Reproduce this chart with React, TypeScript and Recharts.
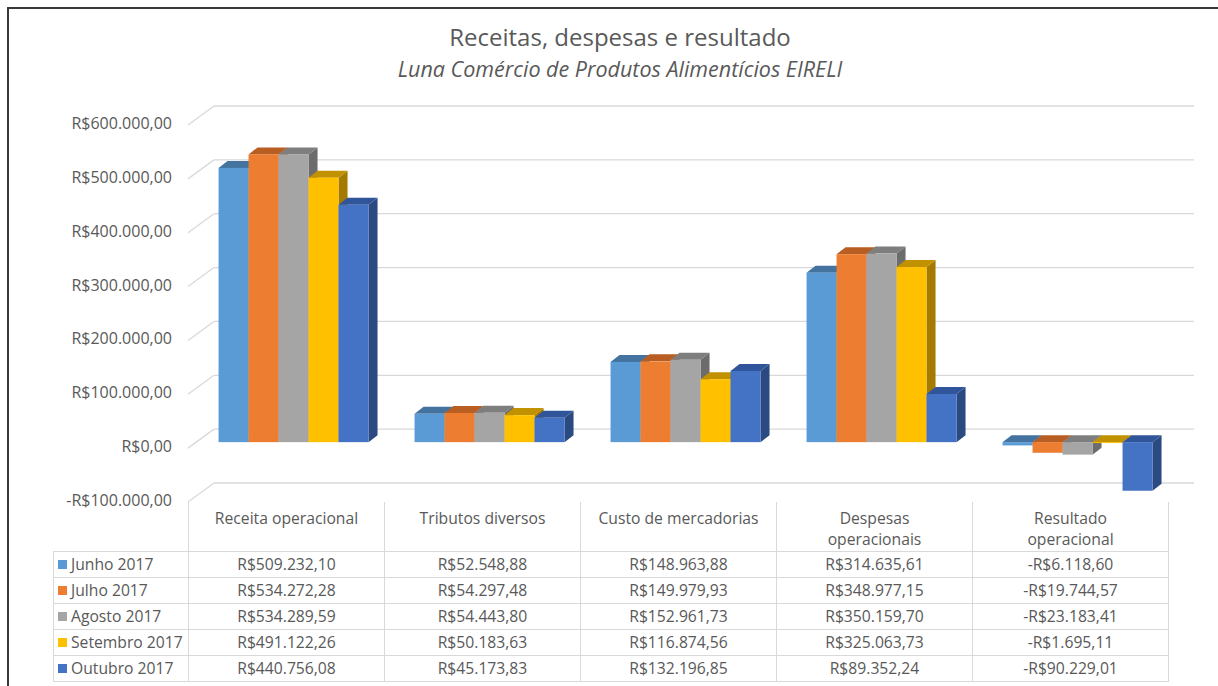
import React from "react";
import { BarChart, Bar, XAxis, YAxis, CartesianGrid } from "recharts";

const categories = [
  "Receita operacional",
  "Tributos diversos",
  "Custo de mercadorias",
  "Despesas\noperacionais",
  "Resultado\noperacional",
];

const months = ["Junho 2017", "Julho 2017", "Agosto 2017", "Setembro 2017", "Outubro 2017"];

const junho = [509232.1, 52548.88, 148963.88, 314635.61, -6118.6];
const julho = [534272.28, 54297.48, 149979.93, 348977.15, -19744.57];
const agosto = [534289.59, 54443.8, 152961.73, 350159.7, -23183.41];
const setembro = [491122.26, 50183.63, 116874.56, 325063.73, -1695.11];
const outubro = [440756.08, 45173.83, 132196.85, 89352.24, -90229.01];

const yTicks = [-100000, 0, 100000, 200000, 300000, 400000, 500000, 600000];

const seriesValues = [junho, julho, agosto, setembro, outubro];
const keys = ["m0", "m1", "m2", "m3", "m4"];
const fronts = ["#5B9BD5", "#ED7D31", "#A5A5A5", "#FFC000", "#4472C4"];
const tops = ["#44739F", "#B85E22", "#7E7E7E", "#C29100", "#30559A"];
const sides = ["#3C6690", "#A45320", "#6C6C6C", "#A47B00", "#2B4A82"];

const data = categories.map((c, i) => {
  const row: any = { name: c };
  keys.forEach((k, s) => (row[k] = seriesValues[s][i]));
  return row;
});

function brl(v: number) {
  const neg = v < 0;
  const [int, dec] = Math.abs(v).toFixed(2).split(".");
  const grouped = int.replace(/\B(?=(\d{3})+(?!\d))/g, ".");
  return (neg ? "-" : "") + "R$" + grouped + "," + dec;
}

const FONT = "'Open Sans', 'Noto Sans', sans-serif";
const TXT = "#595959";

// 3d look: front plane shift and bar depth
const PLANE_DX = 8;
const PLANE_DY = -6;
const DEPTH_X = 9;
const DEPTH_Y = 7;
const BACK_X = 26;
const BACK_Y = 19;

const makeShape = (s: number) => (props: any) => {
  const { x, y, width, height } = props;
  const top = Math.min(y, y + height) + PLANE_DY;
  const bottom = Math.max(y, y + height) + PLANE_DY;
  const left = x + PLANE_DX;
  const right = left + width;
  return (
    <g>
      <polygon
        points={`${right},${top} ${right + DEPTH_X},${top - DEPTH_Y} ${right + DEPTH_X},${bottom - DEPTH_Y} ${right},${bottom}`}
        fill={sides[s]}
      />
      <polygon
        points={`${left},${top} ${left + DEPTH_X},${top - DEPTH_Y} ${right + DEPTH_X},${top - DEPTH_Y} ${right},${top}`}
        fill={tops[s]}
      />
      <rect x={left} y={top} width={width} height={Math.max(bottom - top, 0.5)} fill={fronts[s]} />
    </g>
  );
};

const gridLine = (p: any) => (
  <g key={`g-${p.index}`}>
    <line x1={p.x1} y1={p.y1} x2={p.x1 + BACK_X} y2={p.y1 - BACK_Y} stroke="#D9D9D9" strokeWidth={1.3} />
    <line x1={p.x1 + BACK_X} y1={p.y1 - BACK_Y} x2={p.x2 + BACK_X} y2={p.y1 - BACK_Y} stroke="#D9D9D9" strokeWidth={1.3} />
  </g>
);

const YTick = (props: any) => {
  const { y, payload } = props;
  return (
    <text x={172} y={y - 2} textAnchor="end" dominantBaseline="central" fill={TXT} fontSize={16} fontFamily={FONT}>
      {brl(payload.value)}
    </text>
  );
};

const cellBorder = "1px solid #D9D9D9";

export default function App() {
  return (
    <div style={{ position: "absolute", left: 0, top: 0, width: 1218, height: 686, overflow: "hidden", background: "#fff", fontFamily: FONT }}>
      <div style={{ position: "absolute", left: 7, top: 7, width: 1211, height: 679, borderTop: "2px solid #3A3A3A", borderLeft: "2px solid #3A3A3A" }} />
      <div style={{ position: "absolute", left: 0, width: 1240, top: 21, textAlign: "center", fontSize: 24, color: TXT, lineHeight: "32px" }}>
        Receitas, despesas e resultado
      </div>
      <div style={{ position: "absolute", left: 0, width: 1240, top: 55, textAlign: "center", fontSize: 21.5, fontStyle: "italic", color: TXT, lineHeight: "28px" }}>
        Luna Comércio de Produtos Alimentícios EIRELI
      </div>
      <div style={{ position: "absolute", left: 0, top: 0 }}>
        <BarChart
          width={1218}
          height={686}
          data={data}
          margin={{ top: 125, right: 50, bottom: 184, left: 8 }}
          barCategoryGap="11.5%"
          barGap={0}
        >
          <CartesianGrid vertical={false} horizontal={gridLine} />
          <XAxis dataKey="name" hide />
          <YAxis
            type="number"
            domain={[-100000, 600000]}
            ticks={yTicks}
            interval={0}
            width={180}
            axisLine={false}
            tickLine={false}
            tick={<YTick />}
          />
          {keys.map((k, s) => (
            <Bar key={k} dataKey={k} isAnimationActive={false} shape={makeShape(s)} />
          ))}
        </BarChart>
      </div>
      <table
        style={{
          position: "absolute",
          left: 53,
          top: 502,
          borderCollapse: "collapse",
          tableLayout: "fixed",
          width: 1115,
          fontSize: 15.7,
          color: TXT,
        }}
      >
        <colgroup>
          <col style={{ width: 135 }} />
          {categories.map((c) => (
            <col key={c} style={{ width: 196 }} />
          ))}
        </colgroup>
        <tbody>
          <tr style={{ height: 49 }}>
            <td style={{ padding: 0 }} />
            {categories.map((c) => (
              <td
                key={c}
                style={{
                  borderLeft: cellBorder,
                  borderRight: cellBorder,
                  borderBottom: cellBorder,
                  textAlign: "center",
                  verticalAlign: "top",
                  padding: "6px 0 0 0",
                  lineHeight: "21px",
                  whiteSpace: "pre-line",
                }}
              >
                {c}
              </td>
            ))}
          </tr>
          {months.map((m, s) => (
            <tr key={m} style={{ height: 26 }}>
              <td style={{ border: cellBorder, padding: "0 0 0 4px", whiteSpace: "nowrap", lineHeight: "24px", overflow: "hidden" }}>
                <span style={{ display: "inline-block", width: 9, height: 9, background: fronts[s], marginRight: 4, verticalAlign: "1px" }} />
                {m}
              </td>
              {seriesValues[s].map((v, i) => (
                <td key={i} style={{ border: cellBorder, textAlign: "center", padding: 0, lineHeight: "24px" }}>
                  {brl(v)}
                </td>
              ))}
            </tr>
          ))}
        </tbody>
      </table>
    </div>
  );
}
